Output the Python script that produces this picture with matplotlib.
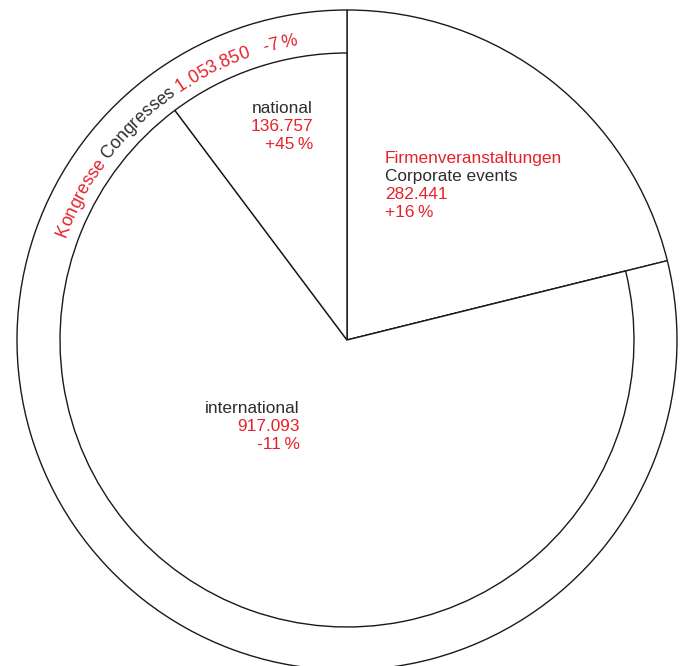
import numpy as np
import matplotlib
matplotlib.use('Agg')
import matplotlib.pyplot as plt

# values
corporate_value = 282441
congress_international = 917093
congress_national = 136757
congress_total = 1053850

corporate_change = '+16\u2009%'
international_change = '-11\u2009%'
national_change = '+45\u2009%'
congress_change = '-7\u2009%'

RED = '#e5222b'
DARK = '#2e2e2e'
LINE = '#1a1a1a'
FONT = ['Liberation Sans', 'DejaVu Sans']

plt.rcParams['font.family'] = FONT


def fmt(v):
    return f'{v:,}'.replace(',', '.')


W, H = 686, 666
fig = plt.figure(figsize=(W / 100, H / 100), dpi=100)
ax = fig.add_axes([0, 0, 1, 1])

center = (347, H - 340)
r_out = 330
r_in = 287
wp = dict(facecolor='white', edgecolor=LINE, linewidth=1.0)

# outer ring: corporate events vs. congresses
ax.pie([corporate_value, congress_total], radius=r_out, center=center,
       startangle=90, counterclock=False, wedgeprops=wp)

# inner pie: congress split (corporate wedge hidden)
inner, _ = ax.pie([corporate_value, congress_international, congress_national],
                  radius=r_in, center=center, startangle=90, counterclock=False,
                  wedgeprops=wp)
inner[0].set_visible(False)

ax.set_xlim(0, W)
ax.set_ylim(0, H)
ax.set_aspect('equal')
ax.axis('off')

fs = 12.4


def block(x, y_px, lines, ha):
    for i, (txt, col) in enumerate(lines):
        ax.text(x, H - (y_px + i * 18), txt, color=col, fontsize=fs,
                ha=ha, va='baseline')


block(313, 113, [('national', DARK), (fmt(congress_national), RED),
                 (national_change, RED)], 'right')
block(385, 163, [('Firmenveranstaltungen', RED), ('Corporate events', DARK),
                 (fmt(corporate_value), RED), (corporate_change, RED)], 'left')
block(300, 413, [('international', DARK), (fmt(congress_international), RED),
                 (international_change, RED)], 'right')

# curved label along the congress ring
segments = [('Kongresse ', RED), ('Congresses ', DARK),
            (fmt(congress_total), RED), ('   ' + congress_change, RED)]
full = ''.join(s for s, _ in segments)
colors = [c for s, c in segments for _ in s]

renderer = fig.canvas.get_renderer()
arc_fs = 12.7


def width(s):
    t = fig.text(0, 0, s + 'l', fontsize=arc_fs)
    w = t.get_window_extent(renderer).width
    t.remove()
    return w


base = width('')
pos = [width(full[:i]) - base for i in range(len(full) + 1)]

r_txt = 299
start = np.deg2rad(160)
for i, ch in enumerate(full):
    if ch == ' ':
        continue
    s = (pos[i] + pos[i + 1]) / 2
    a = start - s / r_txt
    x = center[0] + r_txt * np.cos(a)
    y = center[1] + r_txt * np.sin(a)
    ax.text(x, y, ch, color=colors[i], fontsize=arc_fs, ha='center',
            va='baseline', rotation=np.rad2deg(a) - 90, rotation_mode='anchor')

fig.savefig('out.png', dpi=100)
